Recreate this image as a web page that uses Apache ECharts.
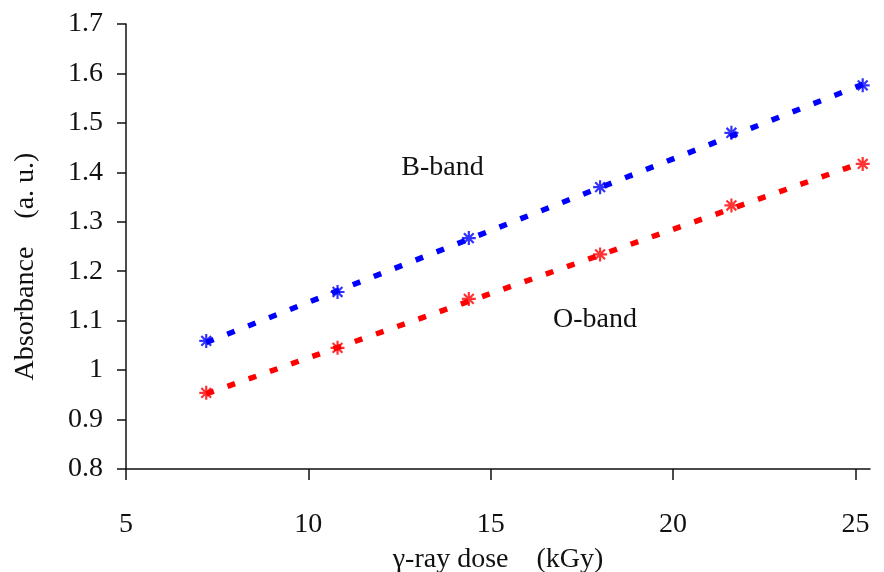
<!DOCTYPE html>
<html><head><meta charset="utf-8">
<script src="https://cdn.jsdelivr.net/npm/echarts@6/dist/echarts.min.js"></script>
<style>html,body{margin:0;padding:0;background:#fff}#c{width:884px;height:572px}</style>
</head><body><div id="c"></div>
<script>
const doses = [7.2, 10.8, 14.4, 18.0, 21.6, 25.2];
const bBand = [1.059, 1.158, 1.267, 1.370, 1.480, 1.576];
const oBand = [0.954, 1.045, 1.144, 1.234, 1.333, 1.417];
const bTrendEnds = [[7.2, 1.056], [25.2, 1.578]];
const oTrendEnds = [[7.2, 0.952], [25.2, 1.420]];
const xTicks = [5, 10, 15, 20, 25];
const yTicks = [0.8, 0.9, 1.0, 1.1, 1.2, 1.3, 1.4, 1.5, 1.6, 1.7];
const labels = [{name: 'B-band', x: 13.68, y: 1.41}, {name: 'O-band', x: 17.86, y: 1.102}];

const FONT = "'Liberation Serif','Times New Roman',serif";
const star = 'path://M0,5 L10,5 M5,0 L5,10 M1.5,1.5 L8.5,8.5 M8.5,1.5 L1.5,8.5';
const chart = echarts.init(document.getElementById('c'), null, {renderer: 'canvas'});

function pts(ys) { return doses.map((d, i) => [d, ys[i]]); }

function trend(ends, color, lbl) {
  return {
    type: 'line', data: ends, symbol: 'none', silent: true, z: 2,
    lineStyle: {color: color, width: 5.5, type: [8, 14.5], cap: 'butt'},
    markPoint: lbl ? {
      symbol: 'circle', symbolSize: 0, silent: true,
      data: [{coord: [lbl.x, lbl.y], label: {show: true, formatter: lbl.name, color: '#111', fontFamily: FONT, fontSize: 28, position: 'inside'}}]
    } : undefined
  };
}
function scatter(ys, color) {
  return {
    type: 'scatter', data: pts(ys), symbol: star, symbolSize: 14, z: 3,
    itemStyle: {color: 'rgba(0,0,0,0)', borderColor: color, borderWidth: 2.2}
  };
}

chart.setOption({
  animation: false,
  backgroundColor: '#fff',
  grid: {left: 126, right: 14, top: 24, bottom: 103, outerBoundsMode: 'none', containLabel: false},
  xAxis: {
    type: 'value', min: 5, max: 25.4, interval: 5,
    name: 'γ-ray dose    (kGy)', nameLocation: 'middle', nameGap: 77,
    nameTextStyle: {fontFamily: FONT, fontSize: 28, color: '#111'},
    axisLine: {show: true, lineStyle: {color: '#111', width: 1.5}},
    axisTick: {show: true, length: 11, inside: false, lineStyle: {color: '#111', width: 1.5}, customValues: xTicks},
    axisLabel: {fontFamily: FONT, fontSize: 28, color: '#111', margin: 42, customValues: xTicks},
    splitLine: {show: false}
  },
  yAxis: {
    type: 'value', min: 0.8, max: 1.7, interval: 0.1,
    name: 'Absorbance    (a. u.)', nameLocation: 'middle', nameGap: 86, nameRotate: 90,
    nameTextStyle: {fontFamily: FONT, fontSize: 28, color: '#111', padding: [0, 40, 0, 0]},
    axisLine: {show: true, lineStyle: {color: '#111', width: 1.5}},
    axisTick: {show: true, length: 9, inside: false, lineStyle: {color: '#111', width: 1.5}},
    axisLabel: {fontFamily: FONT, fontSize: 28, color: '#111', margin: 23,
      formatter: v => { const r = Math.round(v * 10) / 10; return yTicks.includes(r) ? String(r) : ''; }},
    splitLine: {show: false}
  },
  series: [
    trend(bTrendEnds, '#0000ff', labels[0]),
    trend(oTrendEnds, '#ff0000', labels[1]),
    scatter(bBand, '#0000ff'),
    scatter(oBand, '#ff0000')
  ]
});
</script></body></html>
